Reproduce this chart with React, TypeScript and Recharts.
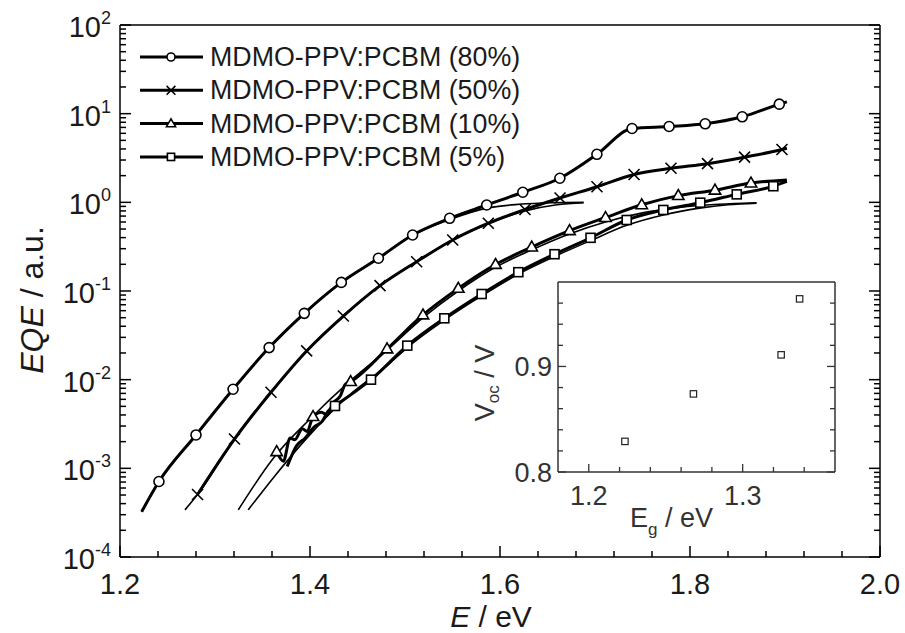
import { ComposedChart, Line, Scatter, XAxis, YAxis, Legend } from "recharts";

const FONT = '"Liberation Sans", Arial, sans-serif';
const INK = "#000";
const TXT = "#1a1a1a";

// legend / series names
const seriesNames = [
  "MDMO-PPV:PCBM (80%)",
  "MDMO-PPV:PCBM (50%)",
  "MDMO-PPV:PCBM (10%)",
  "MDMO-PPV:PCBM (5%)",
];
const markerKinds = ["circle", "cross", "triangle", "square"];

// measured points with markers [E (eV), EQE (a.u.)]
const mark80 = [
  [1.241, 7.1e-4], [1.28, 2.38e-3], [1.319, 7.8e-3], [1.357, 0.023], [1.394, 0.056],
  [1.433, 0.125], [1.472, 0.234], [1.508, 0.428], [1.547, 0.661], [1.586, 0.933],
  [1.624, 1.3], [1.663, 1.87], [1.702, 3.48], [1.739, 6.8], [1.778, 7.17],
  [1.816, 7.69], [1.855, 9.22], [1.894, 12.8],
];
const mark50 = [
  [1.2816, 5.07e-4], [1.3205, 2.14e-3], [1.3589, 7.21e-3], [1.3965, 0.0211], [1.4351, 0.0522],
  [1.4737, 0.115], [1.5123, 0.214], [1.5502, 0.376], [1.5877, 0.581], [1.6263, 0.83],
  [1.6632, 1.12], [1.7021, 1.5], [1.7411, 2.06], [1.78, 2.42], [1.8184, 2.73],
  [1.8574, 3.23], [1.8968, 3.94],
];
const mark10 = [
  [1.3649, 1.54e-3], [1.4032, 3.83e-3], [1.4428, 9.5e-3], [1.4811, 0.0222], [1.5189, 0.0536],
  [1.5561, 0.107], [1.5953, 0.199], [1.6334, 0.313], [1.6732, 0.479], [1.7111, 0.674],
  [1.7492, 0.938], [1.7877, 1.19], [1.8263, 1.37], [1.8642, 1.65],
];
const mark5 = [
  [1.4263, 5.05e-3], [1.4642, 0.01], [1.5024, 0.0242], [1.5414, 0.0492], [1.5807, 0.0925],
  [1.6193, 0.163], [1.6574, 0.26], [1.6953, 0.398], [1.7334, 0.632], [1.7719, 0.82],
  [1.8108, 0.991], [1.8492, 1.23], [1.8877, 1.52],
];

// measured points between markers (line only)
const raw80 = [[1.2228, 3.24e-4], [1.902, 13.6]];
const raw50 = [[1.902, 4.07]];
const raw10 = [
  [1.372, 1.2e-3], [1.379, 2.2e-3], [1.384, 2.1e-3], [1.392, 2.8e-3], [1.397, 2.6e-3],
  [1.412, 4.3e-3], [1.418, 4.0e-3], [1.424, 5.4e-3], [1.432, 6.6e-3], [1.437, 8.8e-3],
  [1.902, 1.79],
];
const raw5 = [
  [1.376, 1.05e-3], [1.386, 1.8e-3], [1.395, 2.2e-3], [1.404, 2.9e-3], [1.413, 3.4e-3],
  [1.419, 4.4e-3], [1.445, 7.0e-3], [1.902, 1.72],
];

// fitted curves (thin lines)
const fit80 = [
  [1.2228, 3.24e-4], [1.241, 7.1e-4], [1.28, 2.38e-3], [1.319, 7.8e-3], [1.357, 0.023],
  [1.394, 0.056], [1.433, 0.125], [1.472, 0.234], [1.508, 0.428], [1.547, 0.64],
  [1.586, 0.86], [1.62, 0.95], [1.655, 0.99], [1.688, 1.0],
];
const fit50 = [
  [1.2684, 3.4e-4], [1.2816, 5.07e-4], [1.3205, 2.14e-3], [1.3589, 7.2e-3], [1.3965, 0.021],
  [1.4351, 0.052], [1.4737, 0.115], [1.5123, 0.214], [1.5502, 0.376], [1.5877, 0.575],
  [1.6263, 0.8], [1.66, 0.94], [1.688, 0.99],
];
const fit10 = [
  [1.3245, 3.4e-4], [1.3614, 1.3e-3], [1.4, 3.6e-3], [1.44, 9.2e-3], [1.48, 0.021],
  [1.52, 0.051], [1.556, 0.1], [1.595, 0.185], [1.633, 0.29], [1.673, 0.44],
  [1.711, 0.6], [1.75, 0.76], [1.79, 0.88], [1.83, 0.95], [1.87, 0.99],
];
const fit5 = [
  [1.335, 3.4e-4], [1.36, 7.5e-4], [1.4, 2.4e-3], [1.44, 6.5e-3], [1.484, 0.0153],
  [1.5024, 0.023], [1.5414, 0.047], [1.5807, 0.088], [1.6193, 0.155], [1.6574, 0.245],
  [1.6953, 0.37], [1.7334, 0.55], [1.7719, 0.72], [1.81, 0.86], [1.84, 0.94], [1.87, 0.98],
];

// inset: Voc vs Eg
const insetEg = [1.2235, 1.268, 1.325, 1.337];
const insetVoc = [0.829, 0.874, 0.911, 0.964];

// ticks
const xMajor = [1.2, 1.4, 1.6, 1.8, 2.0];
const xMinor = [1.24, 1.28, 1.32, 1.36, 1.44, 1.48, 1.52, 1.56, 1.64, 1.68, 1.72, 1.76, 1.84, 1.88, 1.92, 1.96];
const yMajor = [1e-4, 1e-3, 1e-2, 1e-1, 1, 10, 100];
const yMinor = [-4, -3, -2, -1, 0, 1].flatMap((p) =>
  [2, 3, 4, 5, 6, 7, 8, 9].map((m) => m * Math.pow(10, p))
);
const insetXMajor = [1.2, 1.3];
const insetXMinor = [1.22, 1.24, 1.26, 1.28, 1.32, 1.34];
const insetYMajor = [0.8, 0.9];
const insetYMinor = [0.82, 0.84, 0.86, 0.88, 0.92, 0.94, 0.96];

const toPts = (arr: number[][]) => arr.map(([e, v]) => ({ e, v }));
const lineOf = (marks: number[][], raw: number[][]) =>
  toPts([...marks, ...raw].sort((a, b) => a[0] - b[0]));

const series = [
  { marks: toPts(mark80), line: lineOf(mark80, raw80), fit: toPts(fit80) },
  { marks: toPts(mark50), line: lineOf(mark50, raw50), fit: toPts(fit50) },
  { marks: toPts(mark10), line: lineOf(mark10, raw10), fit: toPts(fit10) },
  { marks: toPts(mark5), line: lineOf(mark5, raw5), fit: toPts(fit5) },
];
const insetPts = insetEg.map((eg, i) => ({ eg, voc: insetVoc[i] }));

const near = (list: number[], v: number) => list.some((m) => Math.abs(m - v) < 1e-9 * Math.max(1, m));

function Marker({ kind, cx, cy, s = 1 }: any) {
  const sw = 1.6;
  if (kind === "circle")
    return <circle cx={cx} cy={cy} r={5 * s} fill="#fff" stroke={INK} strokeWidth={sw} />;
  if (kind === "cross") {
    const d = 5.5 * s;
    return (
      <path
        d={`M${cx - d},${cy - d}L${cx + d},${cy + d}M${cx - d},${cy + d}L${cx + d},${cy - d}`}
        stroke={INK}
        strokeWidth={sw}
      />
    );
  }
  if (kind === "triangle") {
    const t = 6 * s;
    return (
      <path
        d={`M${cx},${cy - t}L${cx + t * 0.95},${cy + t * 0.65}L${cx - t * 0.95},${cy + t * 0.65}Z`}
        fill="#fff"
        stroke={INK}
        strokeWidth={sw}
      />
    );
  }
  const q = 4.5 * s;
  return <rect x={cx - q} y={cy - q} width={2 * q} height={2 * q} fill="#fff" stroke={INK} strokeWidth={sw} />;
}

// main axis ticks (drawn inward)
const BottomTick = ({ x, y, payload }: any) => {
  const major = near(xMajor, payload.value);
  return (
    <g>
      <line x1={x} x2={x} y1={y} y2={y - (major ? 11 : 6)} stroke={INK} strokeWidth={1.5} />
      {major && (
        <text x={x} y={y + 37} textAnchor="middle" fontSize={29} fontFamily={FONT} fill={TXT}>
          {payload.value.toFixed(1)}
        </text>
      )}
    </g>
  );
};
const TopTick = ({ x, y, payload }: any) => {
  const major = near(xMajor, payload.value);
  return <line x1={x} x2={x} y1={y} y2={y + (major ? 11 : 6)} stroke={INK} strokeWidth={1.5} />;
};
const LeftTick = ({ x, y, payload }: any) => {
  const major = near(yMajor, payload.value);
  const p = Math.round(Math.log10(payload.value));
  return (
    <g>
      <line x1={x} x2={x + (major ? 11 : 6)} y1={y} y2={y} stroke={INK} strokeWidth={1.5} />
      {major && (
        <text x={x - 9} y={y + 12} textAnchor="end" fontSize={29} fontFamily={FONT} fill={TXT}>
          10
          <tspan dy={-13} fontSize={18}>
            {p}
          </tspan>
        </text>
      )}
    </g>
  );
};
const RightTick = ({ x, y, payload }: any) => {
  const major = near(yMajor, payload.value);
  return <line x1={x} x2={x - (major ? 11 : 6)} y1={y} y2={y} stroke={INK} strokeWidth={1.5} />;
};

// inset ticks
const InsetBottomTick = ({ x, y, payload }: any) => {
  const major = near(insetXMajor, payload.value);
  return (
    <g>
      <line x1={x} x2={x} y1={y} y2={y - (major ? 8 : 5)} stroke="#333" strokeWidth={1.3} />
      {major && (
        <text x={x} y={y + 33} textAnchor="middle" fontSize={27} fontFamily={FONT} fill="#333">
          {payload.value.toFixed(1)}
        </text>
      )}
    </g>
  );
};
const InsetTopTick = ({ x, y, payload }: any) => {
  const major = near(insetXMajor, payload.value);
  return <line x1={x} x2={x} y1={y} y2={y + (major ? 8 : 5)} stroke="#333" strokeWidth={1.3} />;
};
const InsetLeftTick = ({ x, y, payload }: any) => {
  const major = near(insetYMajor, payload.value);
  return (
    <g>
      <line x1={x} x2={x + (major ? 8 : 5)} y1={y} y2={y} stroke="#333" strokeWidth={1.3} />
      {major && (
        <text x={x - 6} y={y + 10} textAnchor="end" fontSize={27} fontFamily={FONT} fill="#333">
          {payload.value.toFixed(1)}
        </text>
      )}
    </g>
  );
};
const InsetRightTick = ({ x, y, payload }: any) => {
  const major = near(insetYMajor, payload.value);
  return <line x1={x} x2={x - (major ? 8 : 5)} y1={y} y2={y} stroke="#333" strokeWidth={1.3} />;
};

const LegendBox = () => (
  <svg width={420} height={140} style={{ overflow: "visible" }}>
    {seriesNames.map((name, i) => {
      const cy = 17 + i * 33.3;
      return (
        <g key={name}>
          <line x1={5} x2={68} y1={cy} y2={cy} stroke={INK} strokeWidth={3} />
          <Marker kind={markerKinds[i]} cx={36} cy={cy} s={0.8} />
          <text x={75} y={cy + 9} fontSize={26.8} fontFamily={FONT} fill={TXT}>
            {name}
          </text>
        </g>
      );
    })}
  </svg>
);

const axisLine = { stroke: INK, strokeWidth: 1.5 };
const insetAxisLine = { stroke: "#333", strokeWidth: 1.5 };

export default function App() {
  const xTicks = [...xMajor, ...xMinor].sort((a, b) => a - b);
  const yTicks = [...yMajor, ...yMinor].sort((a, b) => a - b);
  const ixTicks = [...insetXMajor, ...insetXMinor].sort((a, b) => a - b);
  const iyTicks = [...insetYMajor, ...insetYMinor].sort((a, b) => a - b);

  return (
    <div style={{ position: "absolute", left: 0, top: 0, width: 905, height: 633, background: "#fff" }}>
      <ComposedChart width={905} height={633} margin={{ top: 0, right: 0, bottom: 0, left: 0 }}>
        <XAxis
          type="number"
          dataKey="e"
          domain={[1.2, 2.0]}
          ticks={xTicks}
          interval={0}
          allowDataOverflow
          height={76}
          tickSize={0}
          tickMargin={0}
          tickLine={false}
          axisLine={axisLine}
          tick={BottomTick}
          label={{
            content: ({ viewBox }: any) => (
              <text
                x={viewBox.x + viewBox.width / 2 - 9}
                y={viewBox.y + 70}
                textAnchor="middle"
                fontSize={30}
                fontFamily={FONT}
                fill={TXT}
              >
                <tspan fontStyle="italic">E</tspan> / eV
              </text>
            ),
          }}
        />
        <XAxis
          xAxisId="top"
          orientation="top"
          type="number"
          domain={[1.2, 2.0]}
          ticks={xTicks}
          interval={0}
          allowDataOverflow
          height={25}
          tickSize={0}
          tickMargin={0}
          tickLine={false}
          axisLine={axisLine}
          tick={TopTick}
        />
        <YAxis
          type="number"
          dataKey="v"
          scale="log"
          domain={[1e-4, 100]}
          ticks={yTicks}
          interval={0}
          allowDataOverflow
          width={120}
          tickSize={0}
          tickMargin={0}
          tickLine={false}
          axisLine={axisLine}
          tick={LeftTick}
          label={{
            content: ({ viewBox }: any) => {
              const cx = viewBox.x + 32;
              const cy = viewBox.y + viewBox.height / 2 + 9;
              return (
                <text
                  x={cx}
                  y={cy}
                  transform={`rotate(-90 ${cx} ${cy})`}
                  textAnchor="middle"
                  dominantBaseline="central"
                  fontSize={32}
                  fontFamily={FONT}
                  fill={TXT}
                >
                  <tspan fontStyle="italic">EQE</tspan> / a.u.
                </text>
              );
            },
          }}
        />
        <YAxis
          yAxisId="right"
          orientation="right"
          type="number"
          scale="log"
          domain={[1e-4, 100]}
          ticks={yTicks}
          interval={0}
          allowDataOverflow
          width={25}
          tickSize={0}
          tickMargin={0}
          tickLine={false}
          axisLine={axisLine}
          tick={RightTick}
        />
        <Legend
          layout="vertical"
          align="center"
          verticalAlign="middle"
          wrapperStyle={{ position: "absolute", left: 135, top: 40, width: 420, height: 140 }}
          content={() => <LegendBox />}
        />
        {series.map((s, i) => (
          <Line
            key={`fit${i}`}
            data={s.fit}
            dataKey="v"
            type="monotone"
            stroke={INK}
            strokeWidth={1.6}
            dot={false}
            activeDot={false}
            legendType="none"
            isAnimationActive={false}
          />
        ))}
        {series.map((s, i) => (
          <Line
            key={`data${i}`}
            data={s.line}
            dataKey="v"
            name={seriesNames[i]}
            type="monotone"
            stroke={INK}
            strokeWidth={3}
            dot={false}
            activeDot={false}
            isAnimationActive={false}
          />
        ))}
        {series.map((s, i) => (
          <Scatter
            key={`mark${i}`}
            data={s.marks}
            dataKey="v"
            legendType="none"
            isAnimationActive={false}
            shape={(p: any) => <Marker kind={markerKinds[i]} cx={p.cx} cy={p.cy} />}
          />
        ))}
      </ComposedChart>

      <div style={{ position: "absolute", left: 448, top: 262 }}>
        <ComposedChart width={392} height={290} margin={{ top: 0, right: 0, bottom: 0, left: 0 }}>
          <XAxis
            type="number"
            dataKey="eg"
            domain={[1.18, 1.36]}
            ticks={ixTicks}
            interval={0}
            allowDataOverflow
            height={80}
            tickSize={0}
            tickMargin={0}
            tickLine={false}
            axisLine={insetAxisLine}
            tick={InsetBottomTick}
            label={{
              content: ({ viewBox }: any) => (
                <text
                  x={viewBox.x + viewBox.width / 2 - 25}
                  y={viewBox.y + 55}
                  textAnchor="middle"
                  fontSize={27}
                  fontFamily={FONT}
                  fill="#333"
                >
                  E
                  <tspan dy={8} fontSize={17}>
                    g
                  </tspan>
                  <tspan dy={-8}> / eV</tspan>
                </text>
              ),
            }}
          />
          <XAxis
            xAxisId="top"
            orientation="top"
            type="number"
            domain={[1.18, 1.36]}
            ticks={ixTicks}
            interval={0}
            allowDataOverflow
            height={20}
            tickSize={0}
            tickMargin={0}
            tickLine={false}
            axisLine={insetAxisLine}
            tick={InsetTopTick}
          />
          <YAxis
            type="number"
            dataKey="voc"
            domain={[0.8, 0.98]}
            ticks={iyTicks}
            interval={0}
            allowDataOverflow
            width={110}
            tickSize={0}
            tickMargin={0}
            tickLine={false}
            axisLine={insetAxisLine}
            tick={InsetLeftTick}
            label={{
              content: ({ viewBox }: any) => {
                const cx = viewBox.x + 37;
                const cy = viewBox.y + viewBox.height / 2 + 6;
                return (
                  <text
                    x={cx}
                    y={cy}
                    transform={`rotate(-90 ${cx} ${cy})`}
                    textAnchor="middle"
                    dominantBaseline="central"
                    fontSize={27}
                    fontFamily={FONT}
                    fill="#333"
                  >
                    V
                    <tspan dy={8} fontSize={17}>
                      oc
                    </tspan>
                    <tspan dy={-8}> / V</tspan>
                  </text>
                );
              },
            }}
          />
          <YAxis
            yAxisId="right"
            orientation="right"
            type="number"
            domain={[0.8, 0.98]}
            ticks={iyTicks}
            interval={0}
            allowDataOverflow
            width={5}
            tickSize={0}
            tickMargin={0}
            tickLine={false}
            axisLine={insetAxisLine}
            tick={InsetRightTick}
          />
          <Scatter
            data={insetPts}
            dataKey="voc"
            isAnimationActive={false}
            shape={(p: any) => (
              <rect x={p.cx - 3.2} y={p.cy - 3.2} width={6.4} height={6.4} fill="#fff" stroke="#222" strokeWidth={1.2} />
            )}
          />
        </ComposedChart>
      </div>
    </div>
  );
}
